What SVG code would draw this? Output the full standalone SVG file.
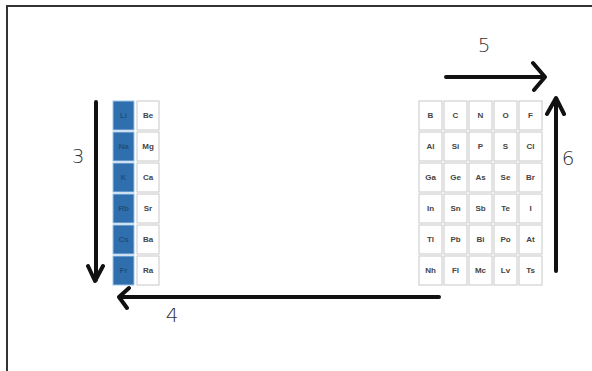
<svg xmlns="http://www.w3.org/2000/svg" width="592" height="371" viewBox="0 0 592 371">
<style>
.frame{stroke:#333;stroke-width:2;fill:none}
.b{fill:#2f6fad;stroke:#9cc3e6;stroke-width:1}
.w{fill:#fff;stroke:#c8c8c8;stroke-width:1}
.tb{font-family:"Liberation Sans",Arial,sans-serif;font-size:8px;font-weight:bold;fill:#1f4f80;text-anchor:middle}
.tw{font-family:"Liberation Sans",Arial,sans-serif;font-size:8px;font-weight:bold;fill:#444;text-anchor:middle}
.ar{stroke:#111;stroke-width:4;fill:none;stroke-linecap:round;stroke-linejoin:round}
.lbl{font-family:"DejaVu Sans",sans-serif;font-size:20px;font-weight:200;fill:#333;text-anchor:middle}
</style>
<rect width="592" height="371" fill="#fff"/>
<path class="frame" d="M7,371 V6 H592"/>
<g id="group12">
<rect class="b" x="113" y="101" width="21" height="29"/><text class="tb" x="123.5" y="118">Li</text>
<rect class="w" x="137" y="101" width="22" height="29"/><text class="tw" x="148" y="118">Be</text>
<rect class="b" x="113" y="132" width="21" height="29"/><text class="tb" x="123.5" y="149">Na</text>
<rect class="w" x="137" y="132" width="22" height="29"/><text class="tw" x="148" y="149">Mg</text>
<rect class="b" x="113" y="163" width="21" height="29"/><text class="tb" x="123.5" y="180">K</text>
<rect class="w" x="137" y="163" width="22" height="29"/><text class="tw" x="148" y="180">Ca</text>
<rect class="b" x="113" y="194" width="21" height="29"/><text class="tb" x="123.5" y="211">Rb</text>
<rect class="w" x="137" y="194" width="22" height="29"/><text class="tw" x="148" y="211">Sr</text>
<rect class="b" x="113" y="225" width="21" height="29"/><text class="tb" x="123.5" y="242">Cs</text>
<rect class="w" x="137" y="225" width="22" height="29"/><text class="tw" x="148" y="242">Ba</text>
<rect class="b" x="113" y="256" width="21" height="29"/><text class="tb" x="123.5" y="273">Fr</text>
<rect class="w" x="137" y="256" width="22" height="29"/><text class="tw" x="148" y="273">Ra</text>
</g>
<g id="group13-18">
<rect class="w" x="419" y="101" width="23" height="29"/><text class="tw" x="430.5" y="118">B</text>
<rect class="w" x="444" y="101" width="23" height="29"/><text class="tw" x="455.5" y="118">C</text>
<rect class="w" x="469" y="101" width="23" height="29"/><text class="tw" x="480.5" y="118">N</text>
<rect class="w" x="494" y="101" width="23" height="29"/><text class="tw" x="505.5" y="118">O</text>
<rect class="w" x="519" y="101" width="23" height="29"/><text class="tw" x="530.5" y="118">F</text>
<rect class="w" x="419" y="132" width="23" height="29"/><text class="tw" x="430.5" y="149">Al</text>
<rect class="w" x="444" y="132" width="23" height="29"/><text class="tw" x="455.5" y="149">Si</text>
<rect class="w" x="469" y="132" width="23" height="29"/><text class="tw" x="480.5" y="149">P</text>
<rect class="w" x="494" y="132" width="23" height="29"/><text class="tw" x="505.5" y="149">S</text>
<rect class="w" x="519" y="132" width="23" height="29"/><text class="tw" x="530.5" y="149">Cl</text>
<rect class="w" x="419" y="163" width="23" height="29"/><text class="tw" x="430.5" y="180">Ga</text>
<rect class="w" x="444" y="163" width="23" height="29"/><text class="tw" x="455.5" y="180">Ge</text>
<rect class="w" x="469" y="163" width="23" height="29"/><text class="tw" x="480.5" y="180">As</text>
<rect class="w" x="494" y="163" width="23" height="29"/><text class="tw" x="505.5" y="180">Se</text>
<rect class="w" x="519" y="163" width="23" height="29"/><text class="tw" x="530.5" y="180">Br</text>
<rect class="w" x="419" y="194" width="23" height="29"/><text class="tw" x="430.5" y="211">In</text>
<rect class="w" x="444" y="194" width="23" height="29"/><text class="tw" x="455.5" y="211">Sn</text>
<rect class="w" x="469" y="194" width="23" height="29"/><text class="tw" x="480.5" y="211">Sb</text>
<rect class="w" x="494" y="194" width="23" height="29"/><text class="tw" x="505.5" y="211">Te</text>
<rect class="w" x="519" y="194" width="23" height="29"/><text class="tw" x="530.5" y="211">I</text>
<rect class="w" x="419" y="225" width="23" height="29"/><text class="tw" x="430.5" y="242">Tl</text>
<rect class="w" x="444" y="225" width="23" height="29"/><text class="tw" x="455.5" y="242">Pb</text>
<rect class="w" x="469" y="225" width="23" height="29"/><text class="tw" x="480.5" y="242">Bi</text>
<rect class="w" x="494" y="225" width="23" height="29"/><text class="tw" x="505.5" y="242">Po</text>
<rect class="w" x="519" y="225" width="23" height="29"/><text class="tw" x="530.5" y="242">At</text>
<rect class="w" x="419" y="256" width="23" height="29"/><text class="tw" x="430.5" y="273">Nh</text>
<rect class="w" x="444" y="256" width="23" height="29"/><text class="tw" x="455.5" y="273">Fl</text>
<rect class="w" x="469" y="256" width="23" height="29"/><text class="tw" x="480.5" y="273">Mc</text>
<rect class="w" x="494" y="256" width="23" height="29"/><text class="tw" x="505.5" y="273">Lv</text>
<rect class="w" x="519" y="256" width="23" height="29"/><text class="tw" x="530.5" y="273">Ts</text>
</g>
<g id="connectors">
<path class="ar" d="M96,102 V280 M88,266 L95,281 L103,266"/>
<path class="ar" d="M439,297 H120 M129,288 L119,297 L127,308"/>
<path class="ar" d="M446,77 H544 M533,63 L545,77 L534,90"/>
<path class="ar" d="M556,271 V99 M547,114 L556,98 L564,114"/>
</g>
<text class="lbl" x="78" y="163">3</text>
<text class="lbl" x="172" y="322">4</text>
<text class="lbl" x="484" y="52">5</text>
<text class="lbl" x="568" y="165">6</text>
</svg>
